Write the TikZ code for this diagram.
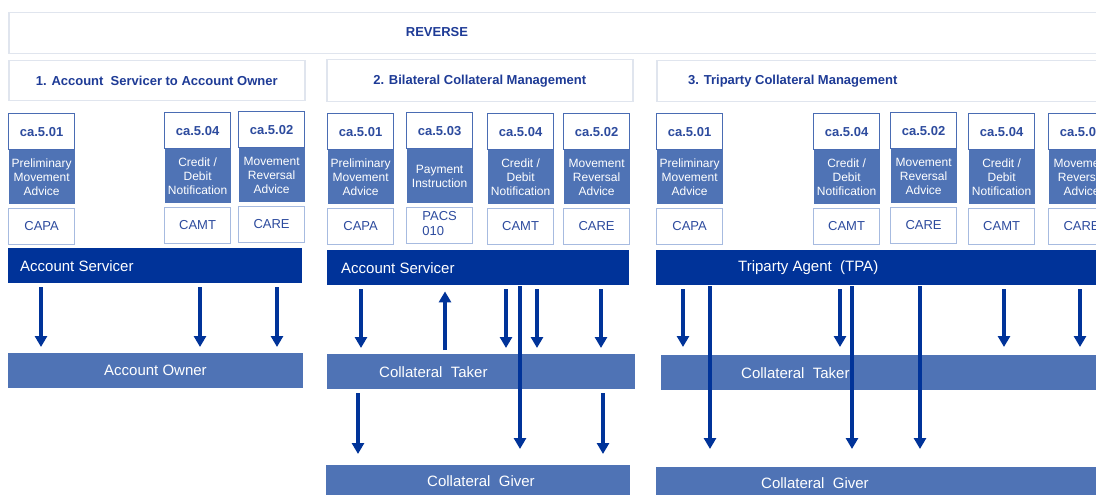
\documentclass[tikz,border=0pt]{standalone}
\usepackage{fontspec}
\setmainfont{Liberation Sans}
\usepackage{tikz}
\usetikzlibrary{positioning, arrows.meta}
\definecolor{svcBlue}{HTML}{003399}
\definecolor{msgBlue}{HTML}{4F73B5}
\definecolor{codeEdge}{HTML}{4A6CB3}
\definecolor{fmtEdge}{HTML}{A7BBE0}
\definecolor{headEdge}{HTML}{E0E5EE}
\definecolor{codeText}{HTML}{2D4B9E}
\definecolor{headText}{HTML}{1E3B96}
\newcommand{\msgWidth}{66pt}
\tikzstyle{headBox}=[draw=headEdge, line width=1.5pt, anchor=north west, inner sep=0pt]
\tikzstyle{headLabel}=[text=headText, inner sep=0pt, font=\bfseries\fontsize{13}{15}\selectfont]
\tikzstyle{codeBox}=[draw=codeEdge, line width=1.2pt, fill=white, anchor=north west, minimum width=\msgWidth, minimum height=36pt, inner sep=0pt, text=codeText, font=\bfseries\fontsize{13}{15}\selectfont]
\tikzstyle{descBox}=[fill=msgBlue, minimum width=\msgWidth, minimum height=54pt, inner sep=0pt, text=white, align=center, font=\fontsize{12}{13.8}\selectfont]
\tikzstyle{fmtBox}=[draw=fmtEdge, line width=1.2pt, minimum width=\msgWidth, minimum height=36pt, inner sep=0pt, text=codeText, font=\fontsize{13}{15}\selectfont]
\tikzstyle{agentBar}=[fill=svcBlue, anchor=north west, minimum height=35pt, inner sep=0pt]
\tikzstyle{partyBar}=[fill=msgBlue, anchor=north west, minimum height=35pt, inner sep=0pt]
\tikzstyle{barLabel}=[text=white, inner sep=0pt, font=\fontsize{15}{17}\selectfont]
\tikzstyle{flow}=[-{Triangle[width=12pt,length=11pt]}, line width=4.5pt, draw=svcBlue, shorten <=4pt, shorten >=6pt]
\tikzstyle{longFlow}=[flow, shorten <=1pt, shorten >=16pt]
\newcommand\nodeMsg{}
\def\nodeMsg(#1)(#2)#3#4#5{%
  \node[codeBox] (#1code) at (#2) {ca.5.#3};
  \node[descBox, below=0pt of #1code] (#1desc) {#4};
  \node[fmtBox, below=3pt of #1desc] (#1fmt) {#5};
}

\begin{document}
\begin{tikzpicture}[x=1pt, y=-1pt]
  \clip (0,0) rectangle (1096,495);
  \fill[white] (0,0) rectangle (1096,495);

  % headers
  \node[headBox, minimum width=1102pt, minimum height=41pt] (reverse) at (8,12) {};
  \node[headLabel] (reverseText) at (437,32) {REVERSE};
  \node[headBox, minimum width=296pt, minimum height=40pt] (secA) at (8,60) {};
  \node[headLabel] (secAtext) at (secA.center) {1. Account\ \ Servicer to Account Owner};
  \node[headBox, minimum width=306pt, minimum height=42pt] (secB) at (326,59) {};
  \node[headLabel] (secBtext) at (secB.center) {2. Bilateral Collateral Management};
  \node[headBox, minimum width=460pt, minimum height=41pt] (secC) at (656,60) {};
  \node[headLabel, right=32pt of secC.west] (secCtext) {3. Triparty Collateral Management};

  % messages
  \nodeMsg(aa)(8,113){01}{Preliminary\\Movement\\Advice}{CAPA}
  \nodeMsg(ab)(164,112){04}{Credit /\\Debit\\Notification}{CAMT}
  \nodeMsg(ac)(238,111){02}{Movement\\Reversal\\Advice}{CARE}
  \nodeMsg(ba)(327,113){01}{Preliminary\\Movement\\Advice}{CAPA}
  \nodeMsg(bb)(406,112){03}{Payment\\Instruction}{\begin{tabular}{@{}l@{}}PACS\\010\end{tabular}}
  \nodeMsg(bc)(487,113){04}{Credit /\\Debit\\Notification}{CAMT}
  \nodeMsg(bd)(563,113){02}{Movement\\Reversal\\Advice}{CARE}
  \nodeMsg(ca)(656,113){01}{Preliminary\\Movement\\Advice}{CAPA}
  \nodeMsg(cb)(813,113){04}{Credit /\\Debit\\Notification}{CAMT}
  \nodeMsg(cc)(890,112){02}{Movement\\Reversal\\Advice}{CARE}
  \nodeMsg(cd)(968,113){04}{Credit /\\Debit\\Notification}{CAMT}
  \nodeMsg(ce)(1048,113){02}{Movement\\Reversal\\Advice}{CARE}

  % parties
  \node[agentBar, minimum width=294pt] (svcA) at (8,248) {};
  \node[barLabel, right=12pt of svcA.west] (svcAtext) {Account Servicer};
  \node[partyBar, minimum width=295pt] (ownA) at (8,353) {};
  \node[barLabel, right=96pt of ownA.west] (ownAtext) {Account Owner};

  \node[agentBar, minimum width=302pt] (svcB) at (327,250) {};
  \node[barLabel, right=14pt of svcB.west] (svcBtext) {Account Servicer};
  \node[partyBar, minimum width=308pt] (ctB) at (327,354) {};
  \node[barLabel, right=52pt of ctB.west] (ctBtext) {Collateral\ \ Taker};
  \node[partyBar, minimum width=304pt, minimum height=32pt] (cgB) at (326,465) {};
  \node[barLabel, right=101pt of cgB.west] (cgBtext) {Collateral\ \ Giver};

  \node[agentBar, minimum width=460pt] (tpaC) at (656,250) {};
  \node[barLabel, right=82pt of tpaC.west] (tpaCtext) {Triparty Agent\ \ (TPA)};
  \node[partyBar, minimum width=455pt] (ctC) at (661,355) {};
  \node[barLabel, right=80pt of ctC.west] (ctCtext) {Collateral\ \ Taker};
  \node[partyBar, minimum width=460pt, minimum height=32pt] (cgC) at (656,467) {};
  \node[barLabel, right=105pt of cgC.west] (cgCtext) {Collateral\ \ Giver};

  % flows
  \foreach \x in {41,200,277}
    \draw[flow] (svcA.south -| \x,0) -- (ownA.north -| \x,0);

  \foreach \x in {361,506,537,601}
    \draw[flow] (svcB.south -| \x,0) -- (ctB.north -| \x,0);
  \draw[flow] (ctB.north -| 445,0) -- (svcB.south -| 445,0);
  \draw[longFlow] (svcB.south -| 520,0) -- (cgB.north -| 520,0);
  \foreach \x in {358,603}
    \draw[flow, shorten >=11pt] (ctB.south -| \x,0) -- (cgB.north -| \x,0);

  \foreach \x in {683,840,1004,1080}
    \draw[flow, shorten >=8pt] (tpaC.south -| \x,0) -- (ctC.north -| \x,0);
  \foreach \x in {710,852,920}
    \draw[longFlow, shorten >=18pt] (tpaC.south -| \x,0) -- (cgC.north -| \x,0);
\end{tikzpicture}
\end{document}
